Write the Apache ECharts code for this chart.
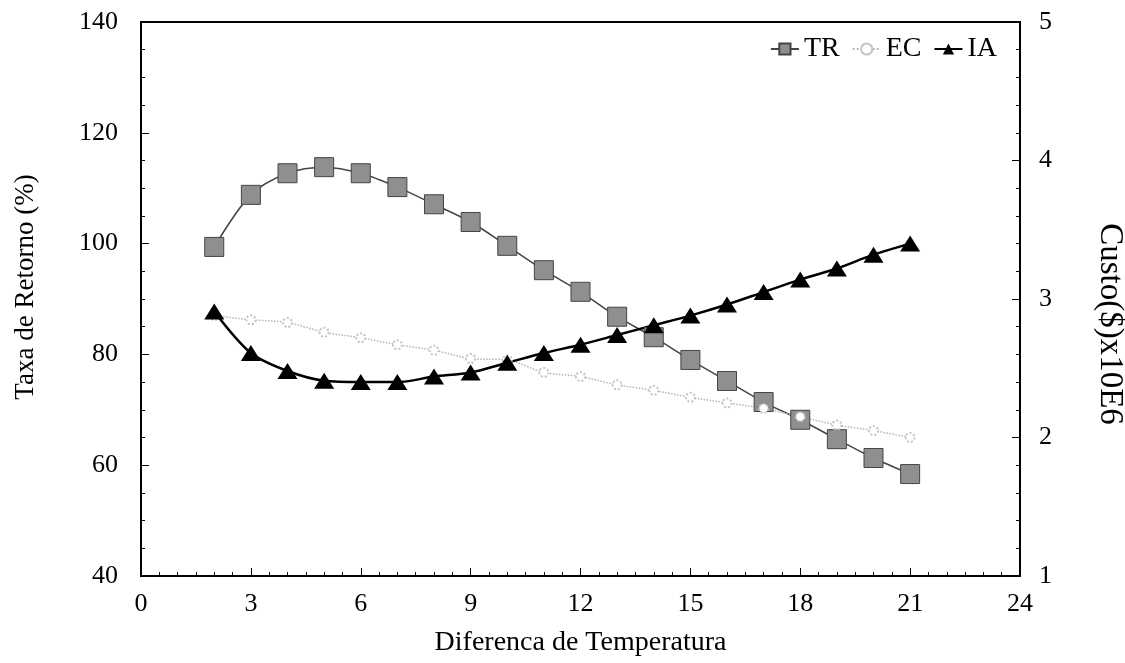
<!DOCTYPE html>
<html>
<head>
<meta charset="utf-8">
<script src="https://cdn.jsdelivr.net/npm/echarts@6/dist/echarts.min.js"></script>
<style>
  html, body { margin: 0; padding: 0; background: #fff; }
  #container { width: 1125px; height: 663px; }
</style>
</head>
<body>
<div id="container"></div>
<script>
// temperature difference (x)
var temperatura = [2, 3, 4, 5, 6, 7, 8, 9, 10, 11, 12, 13, 14, 15, 16, 17, 18, 19, 20, 21];
// TR - taxa de retorno (%), left axis
var tr = [99.4, 108.8, 112.7, 113.8, 112.7, 110.2, 107.1, 103.9, 99.6, 95.2, 91.3, 86.8, 83.1, 79, 75.2, 71.4, 68.2, 64.7, 61.3, 58.4];
// EC - custo, right axis
var ec = [2.88, 2.85, 2.83, 2.76, 2.72, 2.67, 2.63, 2.57, 2.56, 2.47, 2.44, 2.38, 2.34, 2.29, 2.25, 2.21, 2.15, 2.09, 2.05, 2.00];
// IA - custo, right axis
var ia = [2.91, 2.61, 2.48, 2.41, 2.40, 2.40, 2.44, 2.47, 2.54, 2.61, 2.67, 2.74, 2.81, 2.88, 2.96, 3.05, 3.14, 3.22, 3.32, 3.40];

function pares(vals) {
	var arr = [];
	for (var i = 0; i < temperatura.length; ++i)
		arr.push([temperatura[i], vals[i]]);
	return arr;
}

var fonte = '"Liberation Serif", "DejaVu Serif", serif';
var myChart = echarts.init(document.getElementById('container'));

var option = {
	backgroundColor: '#fff',
	textStyle: { fontFamily: fonte, color: '#000' },
	animation: false,
	grid: {
		left: 141, right: 105, top: 22, bottom: 87,
		outerBoundsMode: 'none',
		show: true,
		borderColor: '#000',
		borderWidth: 2,
		backgroundColor: 'transparent'
	},
	legend: {
		right: 123,
		top: 30,
		itemWidth: 28,
		itemHeight: 14,
		itemGap: 12,
		textStyle: { fontFamily: fonte, fontSize: 28, color: '#000' },
		data: ['TR', 'EC', 'IA']
	},
	xAxis: {
		type: 'value',
		min: 0, max: 24, interval: 3,
		name: 'Diferenca de Temperatura',
		nameLocation: 'middle',
		nameGap: 53,
		nameTextStyle: { fontFamily: fonte, fontSize: 28, color: '#000' },
		axisLine: { lineStyle: { color: '#000', width: 2 } },
		axisTick: { inside: true, length: 8, lineStyle: { color: '#000' } },
		minorTick: { show: true, splitNumber: 6, length: 4, lineStyle: { color: '#000' } },
		axisLabel: { fontFamily: fonte, fontSize: 26, color: '#000', margin: 15 },
		splitLine: { show: false }
	},
	yAxis: [
		{
			type: 'value',
			min: 40, max: 140, interval: 20,
			name: 'Taxa de Retorno (%)',
			nameLocation: 'middle',
			nameGap: 102,
			nameTextStyle: { fontFamily: fonte, fontSize: 27, color: '#000', padding: [0, 0, 0, 24] },
			axisLine: { show: true, lineStyle: { color: '#000', width: 2 } },
			axisTick: { show: true, inside: true, length: 8, lineStyle: { color: '#000' } },
			minorTick: { show: true, splitNumber: 4, length: 4, lineStyle: { color: '#000' } },
			axisLabel: { fontFamily: fonte, fontSize: 26, color: '#000', margin: 23 },
			splitLine: { show: false }
		},
		{
			type: 'value',
			position: 'right',
			min: 1, max: 5, interval: 1,
			name: 'Custo($)x10E6',
			nameLocation: 'middle',
			nameRotate: -90,
			nameGap: 73,
			nameTextStyle: { fontFamily: fonte, fontSize: 33, color: '#000', padding: [0, 0, 0, 50] },
			axisLine: { show: true, lineStyle: { color: '#000', width: 2 } },
			axisTick: { show: true, inside: true, length: 8, lineStyle: { color: '#000' } },
			minorTick: { show: true, splitNumber: 5, length: 4, lineStyle: { color: '#000' } },
			axisLabel: { fontFamily: fonte, fontSize: 26, color: '#000', margin: 19 },
			splitLine: { show: false }
		}
	],
	series: [
		{
			name: 'TR',
			type: 'line',
			yAxisIndex: 0,
			smooth: 0.3,
			symbol: 'rect',
			symbolSize: 19,
			itemStyle: { color: '#8f8f8f', borderColor: '#444', borderWidth: 1 },
			lineStyle: { color: '#444', width: 1.5 },
			data: pares(tr)
		},
		{
			name: 'EC',
			type: 'line',
			yAxisIndex: 1,
			smooth: 0.3,
			symbol: 'emptyCircle',
			symbolSize: 9,
			itemStyle: { color: '#c4c4c4', borderColor: '#b5b5b5', borderWidth: 1, borderType: 'dotted' },
			lineStyle: { color: '#b5b5b5', width: 1.5, type: 'dotted' },
			data: pares(ec)
		},
		{
			name: 'IA',
			type: 'line',
			yAxisIndex: 1,
			smooth: 0.3,
			symbol: 'triangle',
			symbolSize: [20, 16],
			itemStyle: { color: '#000' },
			lineStyle: { color: '#000', width: 2.5 },
			data: pares(ia)
		}
	]
};
myChart.setOption(option);
</script>
</body>
</html>
